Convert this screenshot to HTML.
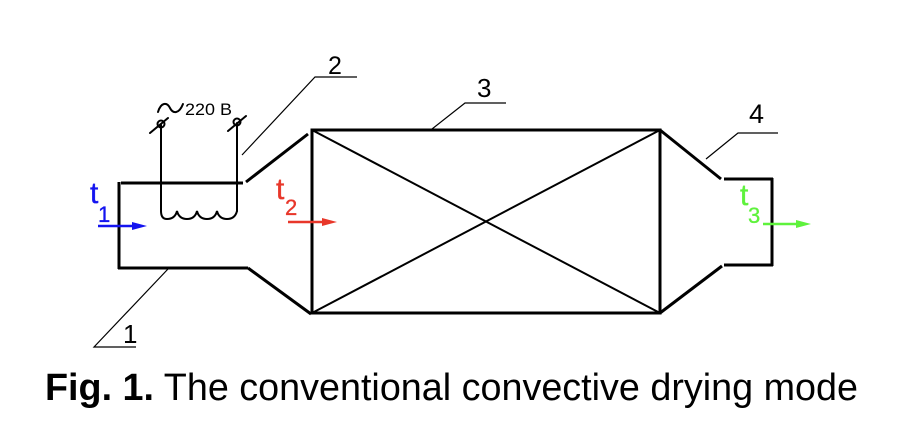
<!DOCTYPE html>
<html>
<head>
<meta charset="utf-8">
<style>
  html, body { margin:0; padding:0; background:#fff; }
  svg { display:block; }
  text { font-family: "Liberation Sans", Arial, sans-serif; }
</style>
</head>
<body>
<svg width="904" height="436" viewBox="0 0 904 436" xmlns="http://www.w3.org/2000/svg">
  <rect width="904" height="436" fill="#fff"/>

  <!-- Main drying chamber box -->
  <g stroke="#000" stroke-width="3" fill="none" stroke-linecap="square">
    <line x1="312" y1="130" x2="660" y2="130"/>
    <line x1="312" y1="313" x2="660" y2="313"/>
    <line x1="312" y1="130" x2="312" y2="313"/>
    <line x1="660" y1="130" x2="660" y2="313"/>
  </g>
  <g stroke="#000" stroke-width="2" fill="none">
    <line x1="312" y1="130" x2="660" y2="313"/>
    <line x1="312" y1="313" x2="660" y2="130"/>
  </g>

  <!-- Left inlet (heater section) -->
  <g stroke="#000" stroke-width="3" fill="none" stroke-linecap="butt">
    <line x1="121" y1="183" x2="243" y2="183"/>
    <line x1="119" y1="182" x2="119" y2="269"/>
    <line x1="118" y1="268" x2="248" y2="268"/>
    <line x1="246" y1="182" x2="308" y2="134"/>
    <line x1="248" y1="268" x2="311" y2="314"/>
  </g>

  <!-- Right outlet -->
  <g stroke="#000" stroke-width="3" fill="none" stroke-linecap="butt">
    <line x1="660" y1="130" x2="721" y2="179"/>
    <line x1="724" y1="179" x2="773" y2="179"/>
    <line x1="772" y1="178" x2="772" y2="266"/>
    <line x1="773" y1="265" x2="724" y2="265"/>
    <line x1="722" y1="266" x2="660" y2="313"/>
  </g>

  <!-- Heater wires and coil -->
  <g stroke="#000" stroke-width="2" fill="none" stroke-linecap="round">
    <line x1="161" y1="125" x2="161" y2="211"/>
    <line x1="237" y1="123" x2="237" y2="211"/>
    <path d="M161 211 Q161 219 167 219 Q175 219 177 211 Q179 219 187 219 Q195 219 197 211 Q199 219 207 219 Q215 219 217 211 Q219 219 227 219 Q235 219 237 211"/>
    <!-- terminals -->
    <circle cx="161" cy="124" r="3.5"/>
    <circle cx="237" cy="122" r="3.5"/>
    <line x1="150" y1="133" x2="168" y2="118"/>
    <line x1="228" y1="131" x2="246" y2="116"/>
    <!-- tilde -->
    <path d="M158 112 C161 102, 167 102, 170 108 C173 114, 179 114, 183 104"/>
  </g>
  <text x="185" y="115" font-size="17" textLength="47" lengthAdjust="spacingAndGlyphs">220 B</text>

  <!-- Leader lines -->
  <g stroke="#000" stroke-width="1.2" fill="none">
    <polyline points="242,155 315,77 357,77"/>
    <polyline points="432,129 465,103 506,103"/>
    <polyline points="706,159 738,133 778,133"/>
    <polyline points="168,269 94,347 136,347"/>
  </g>
  <text x="328" y="74" font-size="25">2</text>
  <text x="477" y="97" font-size="26">3</text>
  <text x="749" y="123" font-size="27">4</text>
  <text x="123" y="343" font-size="26">1</text>

  <!-- t1 blue -->
  <g fill="#1414f0" stroke="#1414f0" stroke-width="0.35">
    <text x="90" y="203" font-size="30">t</text>
    <text x="98" y="222" font-size="22">1</text>
  </g>
  <polygon points="147,226 132,222 132,230" fill="#1414f0"/>
  <line x1="98" y1="226" x2="134" y2="226" stroke="#1414f0" stroke-width="2.5"/>

  <!-- t2 red -->
  <g fill="#e8372a" stroke="#e8372a" stroke-width="0.35">
    <text x="276" y="199" font-size="30">t</text>
    <text x="285" y="215" font-size="22">2</text>
  </g>
  <polygon points="337,222 322,218 322,226" fill="#e8372a"/>
  <line x1="288" y1="222" x2="324" y2="222" stroke="#e8372a" stroke-width="2.5"/>

  <!-- t3 green -->
  <g fill="#5ef23c" stroke="#5ef23c" stroke-width="0.35">
    <text x="740" y="205" font-size="30">t</text>
    <text x="748" y="223" font-size="22">3</text>
  </g>
  <polygon points="811,224 796,220 796,228" fill="#5ef23c"/>
  <line x1="763" y1="224" x2="798" y2="224" stroke="#5ef23c" stroke-width="2.5"/>

  <!-- Caption -->
  <text x="45" y="400" font-size="38" textLength="813" lengthAdjust="spacingAndGlyphs"><tspan font-weight="bold">Fig. 1.</tspan> The conventional convective drying mode</text>
</svg>
</body>
</html>
